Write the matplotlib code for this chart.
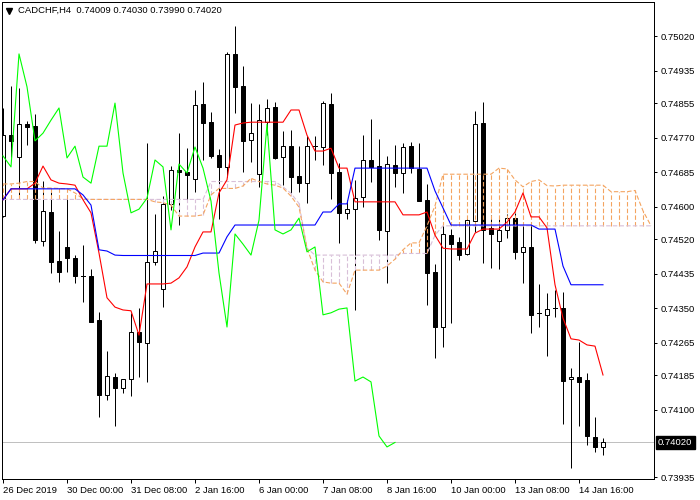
import matplotlib
matplotlib.use("Agg")
import matplotlib.pyplot as plt
from matplotlib.patches import Rectangle
from matplotlib.lines import Line2D
import matplotlib.transforms as mtrans
import numpy as np

plt.rcParams['font.family'] = ['Liberation Sans', 'DejaVu Sans']

# ---------------- data (H4 candles, CADCHF) ----------------
opens = [0.74577, 0.74776, 0.74722, 0.74803, 0.74799, 0.74516, 0.74587, 0.74467, 0.74501, 0.74474,
         0.74430, 0.74430, 0.74321, 0.74137, 0.74181, 0.74154, 0.74176, 0.74292, 0.74265, 0.74464,
         0.74398, 0.74607, 0.74690, 0.74685, 0.74668, 0.74853, 0.74808, 0.74727, 0.74698, 0.74976,
         0.74897, 0.74764, 0.74681, 0.74808, 0.74845, 0.74722, 0.74749, 0.74676, 0.74658, 0.74749,
         0.74747, 0.74853, 0.74685, 0.74585, 0.74594, 0.74624, 0.74715, 0.74700, 0.74540, 0.74703,
         0.74683, 0.74749, 0.74693, 0.74617, 0.74439, 0.74304, 0.74530, 0.74513, 0.74484, 0.74565,
         0.74806, 0.74548, 0.74516, 0.74543, 0.74572, 0.74489, 0.74501, 0.74339, 0.74334, 0.74351,
         0.74351, 0.74176, 0.74181, 0.74174, 0.74034, 0.74009]
highs = [0.74843, 0.74897, 0.74892, 0.74811, 0.74828, 0.74663, 0.74636, 0.74540, 0.74619, 0.74481,
         0.74506, 0.74447, 0.74341, 0.74245, 0.74191, 0.74176, 0.74339, 0.74351, 0.74757, 0.74582,
         0.74626, 0.74700, 0.74781, 0.74744, 0.74887, 0.74907, 0.74833, 0.74742, 0.74981, 0.75045,
         0.74946, 0.74855, 0.74853, 0.74865, 0.74858, 0.74786, 0.74789, 0.74749, 0.74774, 0.74774,
         0.74860, 0.74880, 0.74708, 0.74617, 0.74666, 0.74776, 0.74816, 0.74767, 0.74725, 0.74752,
         0.74757, 0.74759, 0.74757, 0.74656, 0.74459, 0.74555, 0.74545, 0.74526, 0.74575, 0.74835,
         0.74858, 0.74580, 0.74570, 0.74582, 0.74585, 0.74555, 0.74562, 0.74410, 0.74388, 0.74395,
         0.74390, 0.74203, 0.74267, 0.74191, 0.74083, 0.74030]
lows = [0.74575, 0.74722, 0.74629, 0.74752, 0.74511, 0.74503, 0.74437, 0.74415, 0.74439, 0.74412,
        0.74366, 0.74316, 0.74083, 0.74125, 0.74061, 0.74142, 0.74134, 0.74181, 0.74169, 0.74457,
        0.74353, 0.74592, 0.74555, 0.74612, 0.74636, 0.74715, 0.74720, 0.74570, 0.74673, 0.74831,
        0.74685, 0.74710, 0.74649, 0.74776, 0.74717, 0.74653, 0.74634, 0.74636, 0.74609, 0.74715,
        0.74703, 0.74619, 0.74511, 0.74570, 0.74346, 0.74599, 0.74661, 0.74518, 0.74412, 0.74649,
        0.74634, 0.74683, 0.74614, 0.74358, 0.74228, 0.74255, 0.74314, 0.74469, 0.74481, 0.74538,
        0.74462, 0.74449, 0.74447, 0.74523, 0.74471, 0.74412, 0.74289, 0.74304, 0.74233, 0.74329,
        0.74065, 0.73957, 0.74061, 0.74014, 0.73997, 0.73990]
closes = [0.74776, 0.74762, 0.74803, 0.74796, 0.74518, 0.74590, 0.74464, 0.74439, 0.74474, 0.74430,
          0.74430, 0.74316, 0.74137, 0.74184, 0.74154, 0.74176, 0.74292, 0.74267, 0.74464, 0.74491,
          0.74607, 0.74690, 0.74685, 0.74678, 0.74850, 0.74806, 0.74725, 0.74698, 0.74976, 0.74895,
          0.74762, 0.74781, 0.74813, 0.74843, 0.74720, 0.74749, 0.74673, 0.74658, 0.74749, 0.74749,
          0.74855, 0.74683, 0.74585, 0.74594, 0.74621, 0.74715, 0.74698, 0.74543, 0.74705, 0.74683,
          0.74747, 0.74695, 0.74614, 0.74437, 0.74304, 0.74533, 0.74508, 0.74481, 0.74567, 0.74803,
          0.74543, 0.74533, 0.74543, 0.74572, 0.74489, 0.74501, 0.74334, 0.74339, 0.74348, 0.74351,
          0.74171, 0.74181, 0.74169, 0.74036, 0.74009, 0.74020]

tenkan = [0.74617, 0.74644, 0.74644, 0.74644, 0.74658, 0.74700, 0.74666, 0.74658, 0.74656, 0.74653,
          0.74617, 0.74585, 0.74486, 0.74376, 0.74353, 0.74346, 0.74344, 0.74284, 0.74410, 0.74410,
          0.74410, 0.74412, 0.74425, 0.74452, 0.74501, 0.74538, 0.74538, 0.74634, 0.74666, 0.74801,
          0.74806, 0.74808, 0.74808, 0.74808, 0.74808, 0.74808, 0.74838, 0.74838, 0.74776, 0.74737,
          0.74737, 0.74744, 0.74695, 0.74695, 0.74612, 0.74612, 0.74612, 0.74612, 0.74612, 0.74612,
          0.74580, 0.74580, 0.74580, 0.74587, 0.74530, 0.74498, 0.74496, 0.74496, 0.74496, 0.74535,
          0.74545, 0.74545, 0.74545, 0.74562, 0.74587, 0.74634, 0.74575, 0.74575, 0.74548, 0.74408,
          0.74326, 0.74275, 0.74272, 0.74260, 0.74257, 0.74186]
kijun = [0.74617, 0.74644, 0.74644, 0.74644, 0.74644, 0.74644, 0.74644, 0.74644, 0.74644, 0.74644,
         0.74629, 0.74604, 0.74494, 0.74491, 0.74481, 0.74480, 0.74480, 0.74480, 0.74480, 0.74480,
         0.74480, 0.74480, 0.74480, 0.74480, 0.74480, 0.74486, 0.74486, 0.74486, 0.74526, 0.74555,
         0.74555, 0.74555, 0.74555, 0.74555, 0.74555, 0.74555, 0.74555, 0.74555, 0.74555, 0.74555,
         0.74587, 0.74587, 0.74607, 0.74607, 0.74695, 0.74695, 0.74695, 0.74695, 0.74695, 0.74695,
         0.74695, 0.74695, 0.74695, 0.74695, 0.74639, 0.74597, 0.74555, 0.74555, 0.74555, 0.74555,
         0.74555, 0.74555, 0.74555, 0.74555, 0.74555, 0.74555, 0.74555, 0.74545, 0.74545, 0.74545,
         0.74454, 0.74408, 0.74408, 0.74408, 0.74408, 0.74408]
senkou_a = [0.74656, 0.74656, 0.74658, 0.74662, 0.74662, 0.74646, 0.74646, 0.74645, 0.74644, 0.74634,
            0.74619, 0.74618, 0.74618, 0.74618, 0.74618, 0.74618, 0.74618, 0.74618, 0.74618, 0.74612,
            0.74610, 0.74604, 0.74577, 0.74577, 0.74577, 0.74580, 0.74629, 0.74645, 0.74645, 0.74645,
            0.74651, 0.74670, 0.74662, 0.74656, 0.74653, 0.74646, 0.74626, 0.74599, 0.74498, 0.74444,
            0.74415, 0.74412, 0.74412, 0.74385, 0.74444, 0.74444, 0.74444, 0.74444, 0.74454, 0.74471,
            0.74494, 0.74511, 0.74511, 0.74553, 0.74602, 0.74680, 0.74680, 0.74680, 0.74680, 0.74680,
            0.74680, 0.74680, 0.74695, 0.74693, 0.74666, 0.74649, 0.74662, 0.74666, 0.74652, 0.74651,
            0.74653, 0.74653, 0.74653, 0.74653, 0.74653, 0.74653, 0.74637, 0.74637, 0.74637, 0.74640,
            0.74590, 0.74553]
senkou_b = [0.74618] * 26 + [0.74662] * 9 + [0.74649, 0.74633, 0.74608, 0.74498] + \
           [0.74481] * 11 + [0.74485] * 4 + [0.74530] + [0.74553] * 27

ytick_vals = [0.75020, 0.74935, 0.74855, 0.74770, 0.74685, 0.74600, 0.74520,
              0.74435, 0.74350, 0.74265, 0.74185, 0.74100, 0.73935]
xtick_pos = [0, 8, 16, 24, 32, 40, 48, 56, 64, 72]
xtick_labels = ["26 Dec 2019", "30 Dec 00:00", "31 Dec 08:00", "2 Jan 16:00", "6 Jan 00:00",
                "7 Jan 08:00", "8 Jan 16:00", "10 Jan 00:00", "13 Jan 08:00", "14 Jan 16:00"]
current_price = 0.74020
title = "CADCHF,H4  0.74009 0.74030 0.73990 0.74020"

# ---------------- figure ----------------
fig = plt.figure(figsize=(7, 5), dpi=100)
ax = fig.add_axes([2 / 700, 21 / 500, 652 / 700, 477 / 500])
ax.set_xlim(-0.125, 81.375)
ax.set_ylim(0.739301, 0.751037)

PX = 0.72  # one pixel in points
LW = 0.8   # indicator line width

# current price line
ax.axhline(current_price, color='#C0C0C0', lw=PX, zorder=1)

# candles
bw = 0.5
for i, (o, h, l, c) in enumerate(zip(opens, highs, lows, closes)):
    ax.plot([i, i], [l, h], color='black', lw=PX, zorder=2, solid_capstyle='butt')
    if c > o:
        ax.add_patch(Rectangle((i - bw / 2, o), bw, c - o, facecolor='white',
                               edgecolor='black', lw=PX, zorder=2.5))
    elif c < o:
        ax.add_patch(Rectangle((i - bw / 2, c), bw, o - c, facecolor='black',
                               edgecolor='black', lw=PX, zorder=2.5))
    else:
        ax.plot([i - 0.31, i + 0.31], [o, o], color='black', lw=PX, zorder=2.5)

# Ichimoku cloud
xc = np.arange(len(senkou_a))
sa = np.array(senkou_a)
sb = np.array(senkou_b)
dash = (0, (4, 2))
hatch_cols = ['#F4A460' if a >= b else '#D8BFD8' for a, b in zip(sa, sb)]
ax.vlines(xc, np.minimum(sa, sb), np.maximum(sa, sb), colors=hatch_cols,
          linestyles=[dash], lw=LW, zorder=3)
ax.plot(xc, sb, color='#D8BFD8', lw=LW, ls=dash, zorder=3.2)
ax.plot(xc, sa, color='#F4A460', lw=LW, ls=dash, zorder=3.3)

# Tenkan / Kijun / Chikou
xi = np.arange(len(tenkan))
ax.plot(xi, tenkan, color='#FF0000', lw=LW, zorder=4)
ax.plot(xi, kijun, color='#0000FF', lw=LW, zorder=4.1)
chikou = closes[26:]
ax.plot(np.arange(len(chikou)), chikou, color='#00FF00', lw=LW, zorder=4.2)

# axes styling
for s in ax.spines.values():
    s.set_color('black')
    s.set_linewidth(PX)
ax.yaxis.tick_right()
ax.set_yticks(ytick_vals)
ax.set_yticklabels(["%.5f" % v for v in ytick_vals])
ax.tick_params(axis='y', direction='out', length=2.5, width=PX, pad=2,
               labelsize=6.8, colors='black')
ax.set_xticks(xtick_pos)
ax.set_xticklabels(xtick_labels, ha='left')
ax.tick_params(axis='x', direction='out', length=3, width=PX, pad=2,
               labelsize=6.8, colors='black')

# current price box
trans = mtrans.blended_transform_factory(ax.transAxes, ax.transData)
ax.text(1.006, current_price, "0.74020", transform=trans, color='white',
        fontsize=6.8, va='center', ha='left', clip_on=False, zorder=10,
        bbox=dict(facecolor='black', edgecolor='black', pad=1.6))

# title
fig.add_artist(Line2D([9 / 700], [1 - 10.5 / 500], marker='v', markersize=4,
                      color='black', transform=fig.transFigure))
fig.text(18 / 700, 1 - 10 / 500, title, fontsize=6.8, va='center', ha='left',
         color='black')

fig.savefig("out.png", dpi=100)
